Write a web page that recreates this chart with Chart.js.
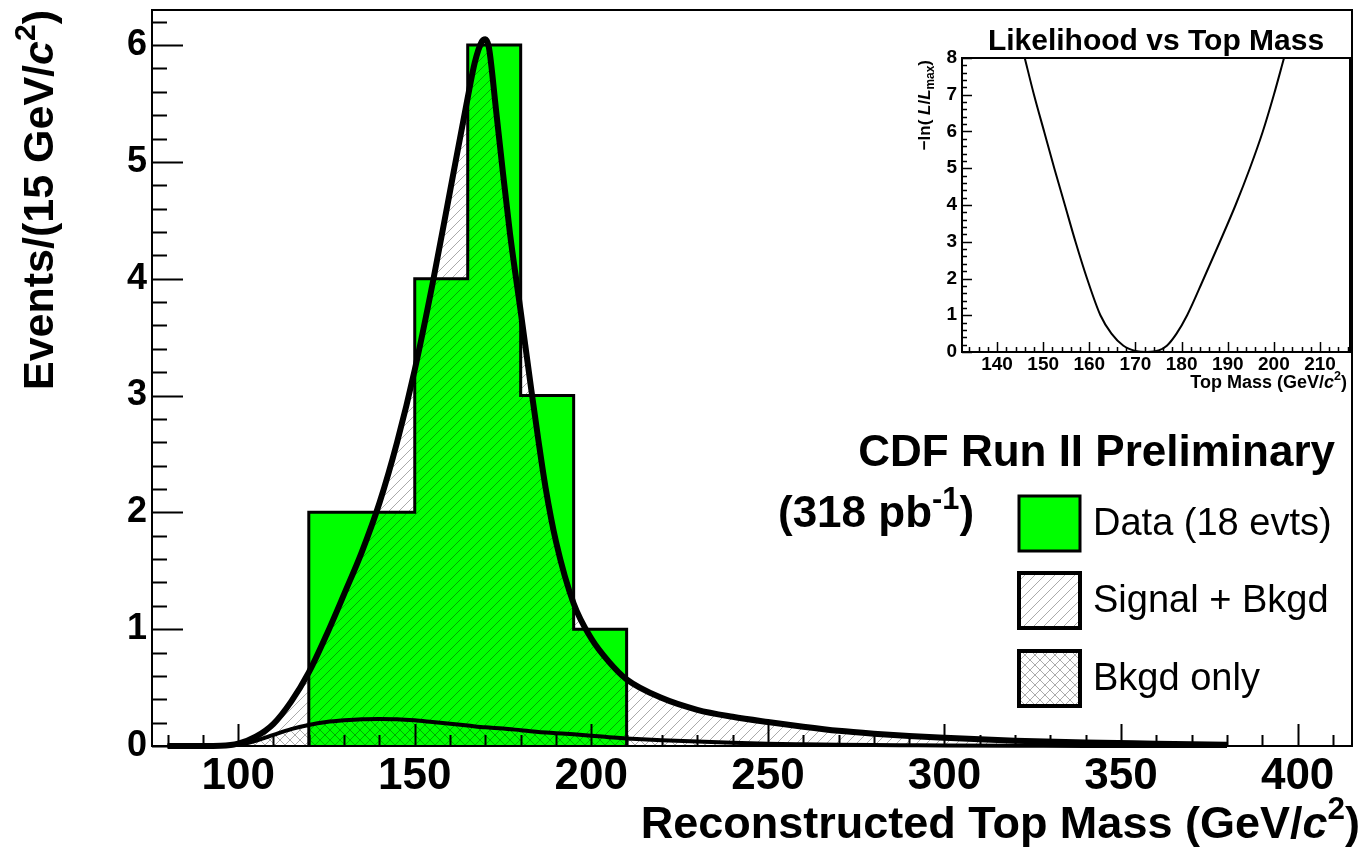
<!DOCTYPE html>
<html>
<head>
<meta charset="utf-8">
<script src="https://cdn.jsdelivr.net/npm/chart.js@4.4.1/dist/chart.umd.min.js"></script>
<style>
  html, body { margin: 0; padding: 0; background: #fff; overflow: hidden; }
  #main { position: absolute; left: 0; top: 0; }
  #inset { position: absolute; left: 900px; top: 20px; }
</style>
</head>
<body>
<canvas id="main" width="1364" height="848"></canvas>
<canvas id="inset" width="464" height="390"></canvas>
<script>
// --- data ---
// histogram: 15 GeV bins, edges and counts (18 events)
const binEdges = [120, 135, 150, 165, 180, 195, 210];
const dataCounts = [2, 2, 4, 6, 3, 1];

// signal + background fit curve
const sbMass = [80, 90, 95, 100, 105, 110, 115, 120, 125, 130, 135, 140, 145, 150, 155, 160, 165, 167, 169, 170, 171, 173, 175, 177, 180, 183, 185, 187, 190, 195, 200, 205, 210, 220, 230, 240, 250, 260, 270, 280, 290, 300, 320, 340, 360, 380];
const sbValues = [0, 0, 0.002, 0.02, 0.08, 0.19, 0.38, 0.63, 0.95, 1.3, 1.66, 2.08, 2.6, 3.22, 3.95, 4.75, 5.55, 5.85, 6.03, 6.05, 5.98, 5.45, 4.9, 4.38, 3.72, 3.05, 2.62, 2.22, 1.75, 1.22, 0.92, 0.72, 0.57, 0.41, 0.31, 0.25, 0.205, 0.165, 0.13, 0.105, 0.085, 0.07, 0.045, 0.03, 0.02, 0.01];

// background-only curve
const bkMass = [80, 90, 95, 100, 105, 110, 115, 120, 125, 130, 135, 140, 145, 150, 155, 160, 165, 170, 175, 180, 185, 190, 195, 200, 205, 210, 220, 230, 240, 250, 260, 270, 280, 290, 300, 320, 340, 360, 380];
const bkValues = [0, 0, 0.002, 0.01, 0.045, 0.095, 0.145, 0.18, 0.205, 0.22, 0.23, 0.232, 0.23, 0.22, 0.205, 0.19, 0.175, 0.16, 0.15, 0.135, 0.12, 0.11, 0.1, 0.088, 0.075, 0.065, 0.05, 0.038, 0.028, 0.02, 0.015, 0.011, 0.008, 0.006, 0.004, 0.002, 0.001, 0, 0];

// inset: -ln(L/Lmax) vs top mass
const lhMass = [146.0, 148.0, 150.2, 152.4, 154.7, 157.0, 159.5, 162.4, 164.8, 167.4, 170.0, 172.5, 175.0, 176.8, 178.9, 181.2, 184.8, 188.3, 191.7, 194.8, 197.6, 200.0, 202.2];
const lhValues = [8, 7, 6, 5, 4, 3, 2, 1, 0.5, 0.17, 0.03, 0, 0.04, 0.17, 0.5, 1, 2, 3, 4, 5, 6, 7, 8];

// tick labels
const xTicks = [100, 150, 200, 250, 300, 350, 400];
const yTicks = [0, 1, 2, 3, 4, 5, 6];
const insetXTicks = [140, 150, 160, 170, 180, 190, 200, 210];
const insetYTicks = [0, 1, 2, 3, 4, 5, 6, 7, 8];

const legendLabels = ['Data (18 evts)', 'Signal + Bkgd', 'Bkgd only'];

const FONT = '"Liberation Sans", Arial, Helvetica, sans-serif';

// hatch patterns like ROOT fill styles
function makeHatch(dir) {
  const s = 10;
  const c = document.createElement('canvas');
  c.width = s; c.height = s;
  const g = c.getContext('2d');
  g.strokeStyle = 'rgba(0,0,0,0.33)';
  g.lineWidth = 1;
  g.beginPath();
  if (dir === '/' || dir === 'x') {
    for (const k of [0, s, 2 * s]) { g.moveTo(k + 1, -1); g.lineTo(k - s - 1, s + 1); }
  }
  if (dir === '\\' || dir === 'x') {
    for (const k of [-s, 0, s]) { g.moveTo(k - 1, -1); g.lineTo(k + s + 1, s + 1); }
  }
  g.stroke();
  return g.createPattern(c, 'repeat');
}
const hatchFwd = makeHatch('/');
const hatchBack = makeHatch('\\');
const hatchCross = makeHatch('x');

// text with italic / superscript / subscript pieces
function drawRuns(ctx, runs, x, y, size, align) {
  let total = 0;
  const items = runs.map(r => {
    const s = (r.sup || r.sub) ? size * 0.7 : size;
    const font = (r.style || 'bold') + ' ' + s + 'px ' + FONT;
    ctx.font = font;
    const w = ctx.measureText(r.text).width;
    total += w;
    return { r, font, w };
  });
  let cx = align === 'right' ? x - total : align === 'center' ? x - total / 2 : x;
  ctx.textAlign = 'left';
  ctx.textBaseline = 'alphabetic';
  ctx.fillStyle = '#000';
  items.forEach(it => {
    ctx.font = it.font;
    const dy = it.r.sup ? -size * 0.42 : it.r.sub ? size * 0.25 : 0;
    ctx.fillText(it.r.text, cx, y + dy);
    cx += it.w;
  });
}
function drawRunsVertical(ctx, runs, x, y, size) {
  ctx.save();
  ctx.translate(x, y);
  ctx.rotate(-Math.PI / 2);
  drawRuns(ctx, runs, 0, 0, size, 'right');
  ctx.restore();
}

// frame + inward ticks (ROOT style)
function drawFrameTicks(chart, o) {
  const ctx = chart.ctx;
  const a = chart.chartArea;
  const xs = chart.scales.x, ys = chart.scales.y;
  ctx.save();
  ctx.strokeStyle = '#000';
  ctx.lineWidth = o.tickWidth;
  ctx.beginPath();
  for (let v = o.xFrom; v <= o.xTo + 1e-6; v += o.xMinor) {
    const px = Math.round(xs.getPixelForValue(v)) + 0.5;
    const major = Math.abs(v / o.xMajor - Math.round(v / o.xMajor)) < 1e-6;
    ctx.moveTo(px, a.bottom);
    ctx.lineTo(px, a.bottom - (major ? o.xMajorLen : o.xMinorLen));
  }
  for (let v = 0; v <= ys.max + 1e-6; v += o.yMinor) {
    const py = Math.round(ys.getPixelForValue(v)) + 0.5;
    const major = Math.abs(v - Math.round(v)) < 1e-6;
    ctx.moveTo(a.left, py);
    ctx.lineTo(a.left + (major ? o.yMajorLen : o.yMinorLen), py);
  }
  ctx.stroke();
  ctx.lineWidth = o.frameWidth;
  ctx.strokeRect(a.left, a.top, a.right - a.left, a.bottom - a.top);
  ctx.restore();
}

// keep Chart.js from reserving room for edge labels
function fixWidth(w) {
  return s => { s.width = w; s.paddingTop = 0; s.paddingBottom = 0; };
}
function fixHeight(h) {
  return s => { s.height = h; s.paddingLeft = 0; s.paddingRight = 0; };
}

// ---------------- main chart ----------------
const histPoints = [{ x: binEdges[0], y: 0 }];
dataCounts.forEach((c, i) => histPoints.push({ x: binEdges[i + 1], y: c }));
histPoints.push({ x: binEdges[binEdges.length - 1], y: 0 });

const mainDecor = {
  id: 'mainDecor',
  afterDraw(chart) {
    const ctx = chart.ctx;
    drawFrameTicks(chart, {
      xFrom: 80, xTo: 410, xMinor: 10, xMajor: 50, xMajorLen: 22, xMinorLen: 11,
      yMinor: 0.2, yMajorLen: 31, yMinorLen: 15, tickWidth: 2, frameWidth: 2
    });
    // axis titles
    drawRuns(ctx, [{ text: 'Reconstructed Top Mass (GeV/' }, { text: 'c', style: 'italic bold' }, { text: '2', sup: true }, { text: ')' }], 1360, 838, 45, 'right');
    drawRunsVertical(ctx, [{ text: 'Events/(15 GeV/' }, { text: 'c', style: 'italic bold' }, { text: '2', sup: true }, { text: ')' }], 53, 10, 43);
    // labels
    drawRuns(ctx, [{ text: 'CDF Run II Preliminary' }], 1335, 466, 44, 'right');
    drawRuns(ctx, [{ text: '(318 pb' }, { text: '-1', sup: true }, { text: ')' }], 778, 527, 44, 'left');
    // legend
    const boxes = [
      { top: 496, fill: '#00ff00', border: 3 },
      { top: 573, fill: hatchFwd, border: 4 },
      { top: 651, fill: hatchCross, border: 4 }
    ];
    const baselines = [535, 612, 690];
    boxes.forEach((b, i) => {
      ctx.save();
      ctx.fillStyle = '#fff';
      ctx.fillRect(1019, b.top, 61, 55);
      ctx.fillStyle = b.fill;
      ctx.fillRect(1019, b.top, 61, 55);
      ctx.lineWidth = b.border;
      ctx.strokeStyle = '#000';
      ctx.strokeRect(1019, b.top, 61, 55);
      ctx.restore();
      drawRuns(ctx, [{ text: legendLabels[i], style: 'normal' }], 1093, baselines[i], 38, 'left');
    });
  }
};

new Chart(document.getElementById('main').getContext('2d'), {
  type: 'line',
  data: {
    datasets: [
      {
        label: 'Data',
        data: histPoints,
        stepped: 'after',
        borderColor: '#000',
        borderWidth: 3,
        backgroundColor: '#00ff00',
        fill: 'origin',
        pointRadius: 0,
        order: 3
      },
      {
        label: 'Signal + Bkgd',
        data: sbMass.map((m, i) => ({ x: m, y: sbValues[i] })),
        borderColor: '#000',
        borderWidth: 6,
        backgroundColor: hatchFwd,
        fill: 'origin',
        cubicInterpolationMode: 'monotone',
        pointRadius: 0,
        borderJoinStyle: 'round',
        clip: false,
        order: 2
      },
      {
        label: 'Bkgd only',
        data: bkMass.map((m, i) => ({ x: m, y: bkValues[i] })),
        borderColor: '#000',
        borderWidth: 4,
        backgroundColor: hatchBack,
        fill: 'origin',
        cubicInterpolationMode: 'monotone',
        pointRadius: 0,
        borderJoinStyle: 'round',
        clip: false,
        order: 1
      }
    ]
  },
  options: {
    responsive: false,
    animation: false,
    layout: { padding: { top: 10, right: 12, left: 0, bottom: 0 } },
    plugins: { legend: { display: false }, tooltip: { enabled: false } },
    scales: {
      x: {
        type: 'linear', min: 75.6, max: 415.4,
        grid: { display: false, drawTicks: false }, border: { display: false },
        ticks: { color: '#000', font: { family: FONT, size: 44, weight: 'bold' }, padding: 4, maxRotation: 0 },
        afterBuildTicks: s => { s.ticks = xTicks.map(v => ({ value: v })); },
        afterFit: fixHeight(102)
      },
      y: {
        type: 'linear', min: 0, max: 6.3,
        grid: { display: false, drawTicks: false }, border: { display: false },
        ticks: { color: '#000', font: { family: FONT, size: 36, weight: 'bold' }, padding: 5 },
        afterBuildTicks: s => { s.ticks = yTicks.map(v => ({ value: v })); },
        afterFit: fixWidth(152)
      }
    }
  },
  plugins: [mainDecor]
});

// ---------------- inset: likelihood ----------------
const insetDecor = {
  id: 'insetDecor',
  afterDraw(chart) {
    const ctx = chart.ctx;
    drawFrameTicks(chart, {
      xFrom: 134, xTo: 216, xMinor: 2, xMajor: 10, xMajorLen: 10, xMinorLen: 5,
      yMinor: 0.2, yMajorLen: 10, yMinorLen: 5, tickWidth: 1.5, frameWidth: 2
    });
    drawRuns(ctx, [{ text: 'Likelihood vs Top Mass' }], 256, 30, 30, 'center');
    drawRuns(ctx, [{ text: 'Top Mass (GeV/' }, { text: 'c', style: 'italic bold' }, { text: '2', sup: true }, { text: ')' }], 447, 368, 18, 'right');
    drawRunsVertical(ctx, [{ text: '\u2212ln( ' }, { text: 'L', style: 'italic bold' }, { text: '/' }, { text: 'L', style: 'italic bold' }, { text: 'max', sub: true }, { text: ')' }], 30, 40, 17);
  }
};

new Chart(document.getElementById('inset').getContext('2d'), {
  type: 'line',
  data: {
    datasets: [{
      label: '-ln(L/Lmax)',
      data: lhMass.map((m, i) => ({ x: m, y: lhValues[i] })),
      borderColor: '#000',
      borderWidth: 2,
      fill: false,
      cubicInterpolationMode: 'monotone',
      pointRadius: 0
    }]
  },
  options: {
    responsive: false,
    animation: false,
    layout: { padding: { top: 38, right: 14, left: 0, bottom: 0 } },
    plugins: { legend: { display: false }, tooltip: { enabled: false } },
    scales: {
      x: {
        type: 'linear', min: 132.4, max: 216.5,
        grid: { display: false, drawTicks: false }, border: { display: false },
        ticks: { color: '#000', font: { family: FONT, size: 19, weight: 'bold' }, padding: 1, maxRotation: 0 },
        afterBuildTicks: s => { s.ticks = insetXTicks.map(v => ({ value: v })); },
        afterFit: fixHeight(58)
      },
      y: {
        type: 'linear', min: 0, max: 8,
        grid: { display: false, drawTicks: false }, border: { display: false },
        ticks: { color: '#000', font: { family: FONT, size: 19, weight: 'bold' }, padding: 5 },
        afterBuildTicks: s => { s.ticks = insetYTicks.map(v => ({ value: v })); },
        afterFit: fixWidth(62)
      }
    }
  },
  plugins: [insetDecor]
});
</script>
</body>
</html>
